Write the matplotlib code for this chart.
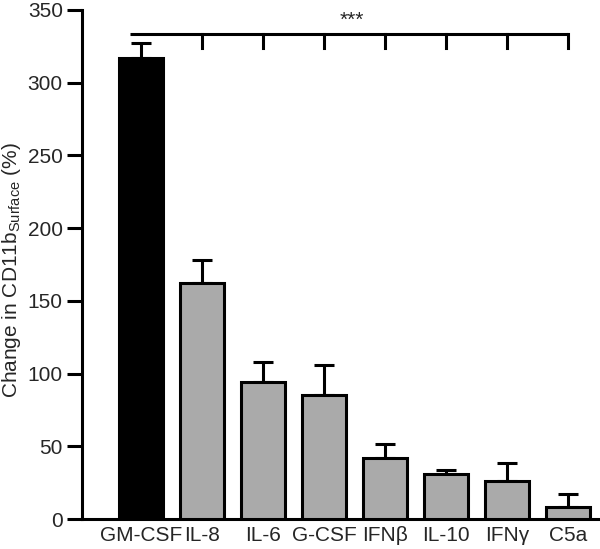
import matplotlib
matplotlib.use("Agg")
import matplotlib.pyplot as plt
import numpy as np

cytokines = ["GM-CSF", "IL-8", "IL-6", "G-CSF", "IFNβ", "IL-10", "IFNγ", "C5a"]
change_pct = [317, 162, 94, 85, 42, 31, 26, 8.5]
error_pct = [10, 16, 14, 21, 9.5, 3, 12.5, 9]
bar_colors = ["black"] + ["#aaaaaa"] * 7
bracket_level = 333.5
bracket_drop = 9.5

plt.rcParams["font.family"] = ["Liberation Sans", "DejaVu Sans"]
plt.rcParams["mathtext.fontset"] = "custom"
plt.rcParams["mathtext.rm"] = "Liberation Sans"
text_color = "#262626"

figure = plt.figure(figsize=(6, 5.49), dpi=100)
ax = figure.add_axes([0.137, 0.0546, 0.86, 0.9274])

x = np.arange(len(cytokines))
ax.bar(x, change_pct, width=0.72, color=bar_colors, edgecolor="black", linewidth=2.2, zorder=3)
ax.errorbar(x, change_pct, yerr=[np.zeros(len(x)), error_pct], fmt="none",
            ecolor="black", elinewidth=2.2, capsize=7.5, capthick=2.2, zorder=2)

# significance bracket over all bars
ax.plot([-0.18, x[-1]], [bracket_level, bracket_level], color="black", linewidth=2.2,
        clip_on=False, solid_capstyle="butt")
for xi in x[1:]:
    ax.plot([xi, xi], [bracket_level, bracket_level - bracket_drop], color="black",
            linewidth=2.2, clip_on=False)
ax.text(3.45, bracket_level + 3, "***", ha="center", va="bottom", fontsize=15, color=text_color)

ax.set_xlim(-0.97, 7.49)
ax.set_ylim(0, 350)
ax.set_yticks(range(0, 351, 50))
ax.set_xticks(x)
ax.set_xticklabels(cytokines)
ax.tick_params(axis="x", length=0, pad=5, labelsize=15, labelcolor=text_color)
ax.tick_params(axis="y", length=11, width=2.2, pad=3, labelsize=15, labelcolor=text_color)
for side in ["top", "right"]:
    ax.spines[side].set_visible(False)
for side in ["left", "bottom"]:
    ax.spines[side].set_linewidth(2.2)
ax.set_ylabel(r"Change in CD11b$_{\mathrm{Surface}}$ (%)", fontsize=15, color=text_color)
ax.yaxis.set_label_coords(-0.115, 0.49)

figure.savefig("out.png", dpi=100)
